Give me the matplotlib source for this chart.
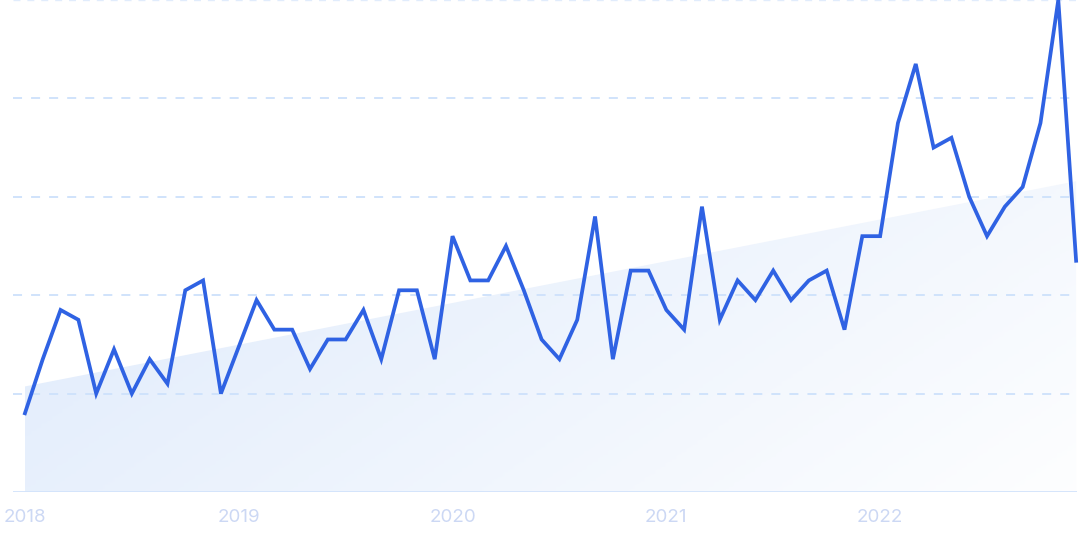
import numpy as np
import matplotlib
matplotlib.use("Agg")
import matplotlib.pyplot as plt
from matplotlib.patches import Polygon
from matplotlib.colors import LinearSegmentedColormap

# monthly interest, Jan 2018 .. Dec 2022
values = [16, 27, 37, 35, 20, 29, 20, 27, 22, 41, 43, 20,
          29.5, 39, 33, 33, 25, 31, 31, 37, 27, 41, 41, 27,
          52, 43, 43, 50, 41, 31, 27, 35, 56, 27, 45, 45,
          37, 33, 58, 35, 43, 39, 45, 39, 43, 45, 33, 52,
          52, 75, 87, 70, 72, 60, 52, 58, 62, 75, 100, 47]
year_labels = ["2018", "2019", "2020", "2021", "2022"]
year_pos = [0, 12, 24, 36, 48]
grid_vals = [20, 40, 60, 80, 100]

plt.rcParams['font.family'] = ['Inter', 'DejaVu Sans']

fig = plt.figure(figsize=(10.8, 5.39), dpi=100)
ax = fig.add_axes([13 / 1080, 47 / 539, (1077 - 13) / 1080, 492 / 539])

x = np.arange(len(values))
y = np.array(values, dtype=float)

ax.set_xlim(-0.67, 59.05)
ax.set_ylim(0, 100)

# linear trend area with gradient fill
k, b = np.polyfit(x, y, 1)
x0, x1 = x[0], x[-1]
poly = Polygon([(x0, 0), (x0, k * x0 + b), (x1, k * x1 + b), (x1, 0)],
               closed=True, facecolor='none', edgecolor='none')
ax.add_patch(poly)
cmap = LinearSegmentedColormap.from_list('fade', ['#ffffff', '#dbe8fb'])
gx, gy = np.meshgrid(np.linspace(0, 1, 200), np.linspace(0, 1, 200))
grad = 0.6 * (1 - gx) + 0.4 * gy + 0.05
im = ax.imshow(grad, extent=[x0, x1, 0, 100], origin='lower', cmap=cmap,
               vmin=0, vmax=1, aspect='auto', zorder=1)
im.set_clip_path(poly)

for g in grid_vals[:-1]:
    ax.axhline(g, color='#cde1fb', lw=1.3, ls=(0, (5, 5)), zorder=2)
ax.axhline(100, color='#e1ecfc', lw=1.0, ls=(0, (5, 5)), zorder=2)
ax.axhline(0, color='#d2e3fb', lw=1.3, zorder=2)

ax.plot(x, y, color='#2f62e3', lw=2.7, solid_joinstyle='miter', zorder=3, clip_on=False)

ax.set_xticks(year_pos)
ax.set_xticklabels(year_labels, color='#ccd8f4', fontsize=13.5)
ax.tick_params(axis='x', length=0, pad=12)
ax.set_yticks([])
for s in ax.spines.values():
    s.set_visible(False)

fig.savefig('out.png', dpi=100)
